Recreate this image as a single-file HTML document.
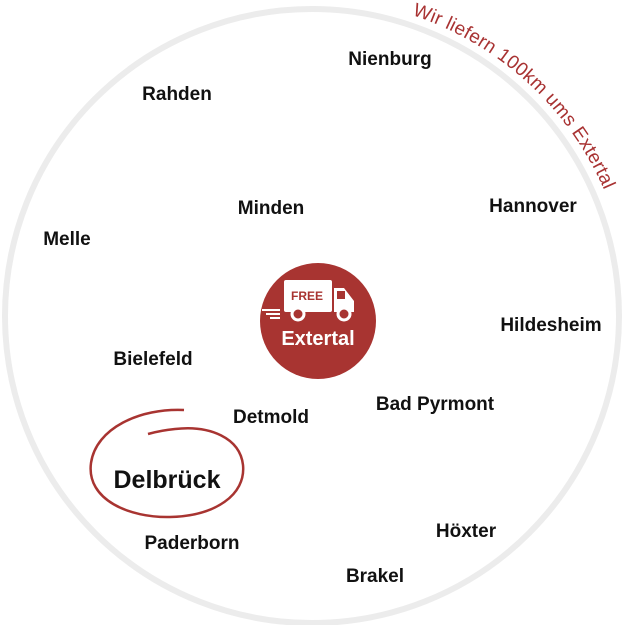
<!DOCTYPE html>
<html><head><meta charset="utf-8"><style>
html,body{margin:0;padding:0;background:#fff;}
svg{display:block;}
text{font-family:"Liberation Sans",sans-serif;}
.c{font-size:19px;font-weight:bold;fill:#111;text-anchor:middle;}
</style></head><body>
<svg width="625" height="625" viewBox="0 0 625 625">
<circle cx="312" cy="316" r="307" fill="none" stroke="#ececec" stroke-width="6"/>
<defs><path id="arc" d="M 412 15 A 319 319 0 0 1 631 316"/></defs>
<text style="font-size:19px;letter-spacing:0.3px" fill="#a83232"><textPath href="#arc">Wir liefern 100km ums Extertal</textPath></text>
<circle cx="318" cy="321" r="58" fill="#a83431"/>
<rect x="284" y="280" width="48" height="32" rx="2" fill="#fff"/>
<path d="M334 288 h10 l10 13 v11 h-20 z" fill="#fff"/>
<rect x="337" y="291" width="8" height="8" fill="#a83431"/>
<g fill="none" stroke="#fff" stroke-width="2">
<path d="M262 310 h18 M266 314 h14 M270 318 h10"/>
</g>
<circle cx="298" cy="314" r="6" fill="#a83431" stroke="#fff" stroke-width="3"/>
<circle cx="344" cy="314" r="6" fill="#a83431" stroke="#fff" stroke-width="3"/>
<text x="307" y="300" style="font-size:12px;font-weight:bold" fill="#a83431" text-anchor="middle">FREE</text>
<text x="318" y="345" style="font-size:20px;font-weight:bold" fill="#fff" text-anchor="middle">Extertal</text>
<text class="c" x="390" y="65">Nienburg</text>
<text class="c" x="177" y="100">Rahden</text>
<text class="c" x="271" y="214">Minden</text>
<text class="c" x="533" y="212">Hannover</text>
<text class="c" x="67" y="245">Melle</text>
<text class="c" x="551" y="331">Hildesheim</text>
<text class="c" x="153" y="365">Bielefeld</text>
<text class="c" x="435" y="410">Bad Pyrmont</text>
<text class="c" x="271" y="423">Detmold</text>
<text class="c" x="167" y="488" style="font-size:25px">Delbrück</text>
<text class="c" x="466" y="537">Höxter</text>
<text class="c" x="192" y="549">Paderborn</text>
<text class="c" x="375" y="582">Brakel</text>
<path d="M184 410 C140 408 96 428 91 463 C86 500 130 518 170 517 C215 516 246 495 243 465 C240 438 210 425 175 429 C165 430 155 432 148 434" fill="none" stroke="#a83431" stroke-width="2.5"/>
</svg>
</body></html>
